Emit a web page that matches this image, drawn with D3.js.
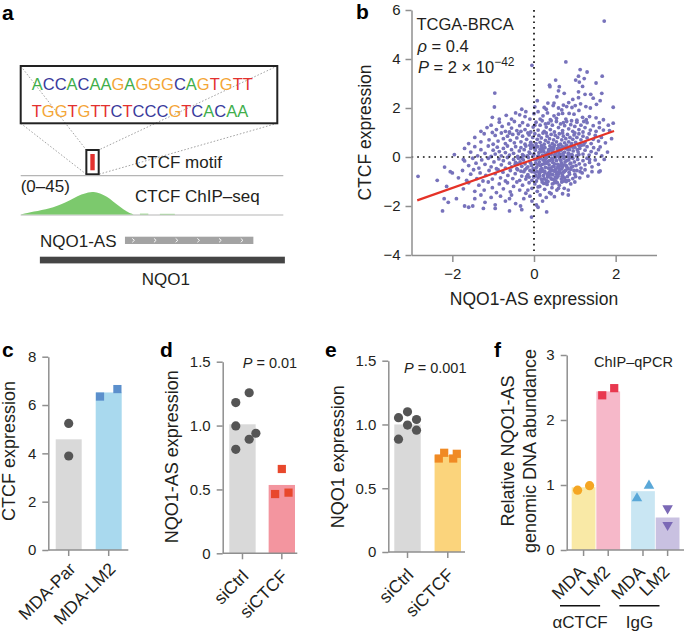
<!DOCTYPE html>
<html>
<head>
<meta charset="utf-8">
<script src="https://cdn.jsdelivr.net/npm/d3@7/dist/d3.min.js"></script>
<style>
html,body{margin:0;padding:0;background:#fff;}
svg{display:block;}
</style>
</head>
<body>
<svg id="fig" width="685" height="631" xmlns="http://www.w3.org/2000/svg"></svg>
<script>
// ================= DATA =================
// panel a
const seqLine1 = "ACCACAAGAGGGCAGTGTT".split("");
const seqLine2 = "TGGTGTTCTCCCGTCACAA".split("");
const baseColor = {A:"#3fae4b", C:"#393a9c", G:"#f4a637", T:"#e3312f"};
const trackDomain = [0, 100];
const chipPos = [0, 4.8, 11.2, 16.3, 20.1, 23.2, 25.8, 27.7, 30.2, 32.8, 35.3, 37.8, 40.4, 42.3, 42.9];
const chipVal = [0, 5, 11, 20, 30, 37, 41, 42, 39, 33, 23.5, 14, 5, 1.3, 0];
const chipMinor = [[45.4, 48.6, 1.3], [53, 58.7, 1.0]];
const chipRange = [0, 45];
const motifRange = [25, 29.7];
const nqo1asRange = [39.7, 88.6];
const nqo1Range = [7.3, 100.6];

// panel b
const scatterPoints = [
[1.72,5.55],[-0.05,3.74],[0.78,3.88],[1.13,3.57],[1.3,3.47],[1.67,3.3],[1.09,3.3],[1.23,3.2],[1.02,3.14],[0.53,3.14],[1.11,3.06],[1.52,3.02],
[0.38,2.93],[0.39,2.87],[0.62,2.87],[1.19,2.88],[0.6,2.7],[0.74,2.6],[1.09,2.66],[1.25,2.56],[1.39,2.56],[1.66,2.6],[0.56,2.46],[1.09,2.42],[-0.96,2.61],[0.08,2.3],[0.34,2.2],[0.49,2.2],[0.47,2.1],[0.72,2.12],[0.85,2.22],[1.14,2.17],[1.53,2.15],[1.94,2.03],[0.8,2.06],[0.93,2.02],[1.01,2.1],[1.27,2.06],[1.38,2.0],[-0.97,2.04],[0.02,2.05],[0.25,2.02],[0.6,2.0],[1.62,2.3],[0.95,2.35],[1.45,2.4],
[0.0,1.77],[0.1,1.85],[0.22,1.68],[0.33,1.8],[0.49,1.68],[0.6,1.75],[0.7,1.78],[0.86,1.78],[0.98,1.75],[1.19,1.62],[1.36,1.65],[1.52,1.6],[-0.68,1.7],[-0.45,1.8],[-0.35,1.72],[-0.22,1.65],[-0.55,1.55],[-0.1,1.55],[0.15,1.55],[0.4,1.52],[0.55,1.58],[0.78,1.55],[1.05,1.5],[1.28,1.52],[1.7,1.52],[1.94,1.38],[1.82,1.3],[1.6,1.4],[-0.85,1.55],[-1.02,1.62],[0.3,1.95],[0.68,1.92],[1.1,1.9],[-0.3,1.95],[-0.2,1.85],
[-1.3,1.05],[-1.15,1.2],[-1.05,1.3],[-0.92,1.12],[-0.85,1.42],[-0.78,1.25],[-0.7,1.05],[-0.62,1.35],[-0.55,1.18],[-0.48,1.45],[-0.42,1.08],[-0.35,1.28],[-0.28,1.4],[-0.22,1.12],[-0.15,1.3],[-0.08,1.02],[-0.02,1.22],[0.05,1.42],[0.1,1.1],[0.15,1.3],[0.2,1.48],[0.25,1.05],[0.3,1.22],[0.35,1.38],[0.4,1.12],[0.45,1.3],[0.5,1.02],[0.55,1.45],[0.6,1.2],[0.65,1.35],[0.7,1.08],[0.75,1.28],[0.8,1.45],[0.85,1.15],[0.9,1.32],[0.95,1.05],[1.0,1.25],[1.05,1.42],[1.1,1.12],[1.15,1.3],[1.2,1.02],[1.25,1.2],[1.3,1.4],[1.38,1.1],[1.45,1.28],[1.52,1.05],[1.6,1.2],[1.7,1.1],[1.85,1.08],[-0.6,1.02],[0.02,1.3],[0.42,1.48],[0.92,1.48],[-0.32,1.05],[0.28,1.35],[0.72,1.4],[1.22,1.45],[-1.02,1.0],
[-1.6,0.55],[-1.45,0.8],[-1.3,0.62],[-1.22,0.95],[-1.1,0.7],[-1.0,0.52],[-0.95,0.88],[-0.88,0.65],[-0.8,0.98],[-0.75,0.75],[-0.7,0.55],[-0.65,0.85],[-0.58,0.68],[-0.52,0.92],[-0.48,0.58],[-0.42,0.78],[-0.38,0.95],[-0.32,0.62],[-0.28,0.85],[-0.22,0.52],[-0.18,0.72],[-0.12,0.9],[-0.08,0.6],[-0.03,0.8],[0.02,0.95],[0.05,0.55],[0.08,0.72],[0.12,0.88],[0.15,0.6],[0.18,0.78],[0.22,0.98],[0.25,0.52],[0.28,0.68],[0.32,0.85],[0.35,0.6],[0.38,0.75],[0.42,0.92],[0.45,0.55],[0.48,0.7],[0.52,0.88],[0.55,0.62],[0.58,0.8],[0.62,0.95],[0.65,0.52],[0.68,0.7],[0.72,0.85],[0.75,0.58],[0.78,0.75],[0.82,0.92],[0.85,0.62],[0.88,0.8],[0.92,0.55],[0.95,0.72],[0.98,0.9],[1.02,0.6],[1.05,0.8],[1.1,0.95],[1.12,0.52],[1.15,0.7],[1.2,0.85],[1.25,0.6],[1.3,0.78],[1.35,0.95],[1.4,0.55],[1.45,0.72],[1.5,0.88],[1.58,0.65],[1.65,0.8],[1.75,0.58],[1.9,0.75],[-0.6,0.98],[0.3,0.98],[0.7,0.98],[1.0,0.98],[-0.15,0.98],
[-1.95,0.1],[-1.7,0.35],[-1.55,0.2],[-1.45,0.42],[-1.38,0.05],[-1.3,0.3],[-1.2,0.15],[-1.12,0.45],[-1.05,0.02],[-1.0,0.28],[-0.95,0.12],[-0.9,0.4],[-0.85,0.22],[-0.8,0.05],[-0.75,0.35],[-0.7,0.18],[-0.65,0.45],[-0.6,0.08],[-0.55,0.3],[-0.5,0.15],[-0.45,0.42],[-0.4,0.02],[-0.36,0.25],[-0.32,0.38],[-0.28,0.1],[-0.24,0.3],[-0.2,0.45],[-0.16,0.05],[-0.12,0.2],[-0.08,0.35],[-0.04,0.48],[0.0,0.12],[0.03,0.28],[0.06,0.42],[0.09,0.02],[0.12,0.18],[0.15,0.32],[0.18,0.46],[0.21,0.08],[0.24,0.22],[0.27,0.38],[0.3,0.02],[0.33,0.15],[0.36,0.3],[0.39,0.45],[0.42,0.1],[0.45,0.25],[0.48,0.4],[0.51,0.04],[0.54,0.18],[0.57,0.34],[0.6,0.48],[0.63,0.12],[0.66,0.28],[0.69,0.42],[0.72,0.06],[0.75,0.2],[0.78,0.36],[0.81,0.02],[0.84,0.15],[0.87,0.3],[0.9,0.45],[0.93,0.1],[0.96,0.25],[1.0,0.4],[1.04,0.05],[1.08,0.2],[1.12,0.35],[1.16,0.48],[1.2,0.12],[1.25,0.28],[1.3,0.42],[1.35,0.08],[1.4,0.22],[1.46,0.38],[1.52,0.15],[1.58,0.3],[1.66,0.05],[1.8,0.2],[1.62,0.41],[0.2,0.4],[0.5,0.48],[0.8,0.48],[-0.1,0.48],[0.0,0.4],[0.35,0.22],[0.65,0.05],[0.95,0.4],[1.1,0.48],
[-2.19,-0.41],[-1.7,-0.16],[-1.73,-0.1],[-1.6,-0.35],[-1.5,-0.05],[-1.42,-0.25],[-1.35,-0.45],[-1.28,-0.12],[-1.2,-0.3],[-1.12,-0.05],[-1.05,-0.4],[-0.98,-0.2],[-0.92,-0.48],[-0.86,-0.08],[-0.8,-0.32],[-0.75,-0.15],[-0.7,-0.45],[-0.65,-0.02],[-0.6,-0.25],[-0.55,-0.4],[-0.5,-0.1],[-0.46,-0.3],[-0.42,-0.48],[-0.38,-0.05],[-0.34,-0.2],[-0.3,-0.38],[-0.26,-0.12],[-0.22,-0.28],[-0.18,-0.45],[-0.14,-0.02],[-0.1,-0.18],[-0.06,-0.35],[-0.02,-0.48],[0.01,-0.1],[0.04,-0.25],[0.07,-0.4],[0.1,-0.05],[0.13,-0.2],[0.16,-0.35],[0.19,-0.48],[0.22,-0.12],[0.25,-0.28],[0.28,-0.42],[0.31,-0.02],[0.34,-0.18],[0.37,-0.32],[0.4,-0.46],[0.43,-0.08],[0.46,-0.22],[0.49,-0.38],[0.52,-0.02],[0.55,-0.15],[0.58,-0.3],[0.61,-0.45],[0.64,-0.1],[0.67,-0.25],[0.7,-0.4],[0.73,-0.05],[0.76,-0.2],[0.79,-0.35],[0.82,-0.48],[0.85,-0.12],[0.88,-0.28],[0.91,-0.42],[0.95,-0.05],[0.99,-0.2],[1.03,-0.35],[1.07,-0.1],[1.11,-0.28],[1.15,-0.45],[1.2,-0.15],[1.25,-0.32],[1.3,-0.05],[1.36,-0.22],[1.42,-0.4],[1.5,-0.12],[1.58,-0.3],[1.36,-0.1],[1.72,-0.1],[0.05,-0.12],[0.2,-0.3],[0.35,-0.45],[0.5,-0.28],[0.62,-0.02],[0.75,-0.32],[0.15,-0.05],[0.45,-0.4],[-0.08,-0.25],[0.28,-0.08],[0.68,-0.48],[0.88,-0.02],[-0.3,-0.05],[-0.45,-0.22],[0.38,-0.15],[0.58,-0.42],
[-2.84,-0.79],[-2.37,-0.95],[-2.05,-0.6],[-2.0,-0.65],[-1.85,-0.85],[-1.75,-0.55],[-1.65,-0.95],[-1.55,-0.7],[-1.48,-0.52],[-1.4,-0.88],[-1.32,-0.65],[-1.25,-0.98],[-1.18,-0.75],[-1.1,-0.55],[-1.02,-0.9],[-0.95,-0.68],[-0.88,-0.52],[-0.82,-0.85],[-0.76,-0.62],[-0.7,-0.98],[-0.64,-0.75],[-0.58,-0.55],[-0.52,-0.88],[-0.46,-0.68],[-0.4,-0.52],[-0.35,-0.95],[-0.3,-0.78],[-0.25,-0.6],[-0.2,-0.9],[-0.15,-0.72],[-0.1,-0.55],[-0.05,-0.95],[-0.01,-0.8],[0.02,-0.62],[0.06,-0.98],[0.1,-0.85],[0.13,-0.68],[0.16,-0.52],[0.2,-0.92],[0.23,-0.75],[0.26,-0.58],[0.3,-0.95],[0.33,-0.82],[0.36,-0.65],[0.4,-0.52],[0.43,-0.9],[0.46,-0.72],[0.5,-0.58],[0.53,-0.98],[0.56,-0.85],[0.6,-0.68],[0.63,-0.52],[0.67,-0.9],[0.7,-0.75],[0.74,-0.6],[0.78,-0.95],[0.82,-0.8],[0.86,-0.62],[0.9,-0.5],[0.95,-0.88],[1.0,-0.7],[1.05,-0.55],[1.12,-0.85],[1.18,-0.65],[1.25,-0.52],[1.32,-0.78],[1.42,-0.6],[1.59,-0.61],[1.62,-0.57],[0.15,-0.62],[0.35,-0.78],[0.55,-0.7],[0.25,-0.88],[0.45,-0.55],[0.65,-0.65],[0.05,-0.75],[-0.12,-0.82],[0.75,-0.85],[0.4,-0.7],[0.2,-0.52],[-0.22,-0.52],[0.85,-0.95],
[-2.14,-1.2],[-1.73,-1.3],[-1.6,-1.05],[-1.45,-1.4],[-1.35,-1.15],[-1.22,-1.35],[-1.12,-1.02],[-1.02,-1.25],[-0.92,-1.45],[-0.85,-1.1],[-0.75,-1.3],[-0.65,-1.05],[-0.58,-1.42],[-0.5,-1.2],[-0.42,-1.02],[-0.35,-1.35],[-0.28,-1.15],[-0.2,-1.48],[-0.12,-1.05],[-0.05,-1.28],[0.02,-1.1],[0.08,-1.4],[0.14,-1.2],[0.2,-1.02],[0.26,-1.32],[0.32,-1.12],[0.38,-1.45],[0.44,-1.25],[0.5,-1.05],[0.56,-1.35],[0.62,-1.15],[0.68,-1.02],[0.74,-1.28],[0.84,-1.35],[0.9,-1.1],[1.0,-1.02],[0.1,-1.22],[0.3,-1.05],[0.45,-1.1],[-0.15,-1.35],[0.6,-1.28],
[-2.2,-1.7],[-2.1,-1.85],[-1.9,-1.7],[-1.7,-2.0],[-1.5,-2.0],[-1.45,-1.7],[-1.3,-1.55],[-1.2,-1.85],[-1.05,-1.65],[-0.95,-1.95],[-0.82,-1.6],[-0.7,-1.8],[-0.55,-1.55],[-0.45,-1.9],[-0.33,-2.0],[-0.25,-1.7],[-0.1,-1.6],[0.06,-1.96],[0.21,-1.8],[0.42,-1.5],[0.7,-1.5],[0.84,-1.55],[0.5,-1.62],[-0.05,-1.8],[0.3,-1.65],[0.15,-1.55],[-0.6,-1.7],
[-2.24,-2.2],[-0.6,-2.2],[-1.24,-2.1],[0.31,-2.24],[-0.06,-2.45],[-1.6,-2.05],[-0.95,-2.1],[-0.3,-2.15],[0.1,-2.05],
[0.02,0.35],[0.08,-0.6],[0.12,0.05],[0.18,-0.9],[0.22,0.3],[0.27,-0.65],[0.31,-0.25],[0.36,0.1],[0.41,-0.85],[0.44,-0.05],[0.47,0.32],[0.53,-0.5],[0.57,-1.05],[0.6,0.2],[0.64,-0.35],[0.69,-0.8],[0.71,0.15],[0.77,-0.55],[0.8,-0.15],[0.83,0.3],[0.87,-0.7],[0.9,-0.25],[0.05,-0.45],[0.14,-0.78],[0.24,-1.08],[0.29,0.12],[0.39,-0.6],[0.48,-0.92],[0.51,0.1],[0.59,-0.78],[0.66,-0.15],[0.74,0.4],[0.79,-1.0],[0.93,0.05],[-0.05,-0.6],[-0.1,0.15],[-0.18,-0.8],[-0.25,0.05],[-0.32,-0.58],[-0.4,-0.28],[0.11,-0.3],[0.21,-0.58],[0.34,-1.0],[0.43,0.38],[0.55,-0.62],[0.63,0.35],[0.72,-0.62],[0.81,-0.42],[0.98,-0.55],[1.06,0.3],[1.13,-0.6],[1.22,0.5],[0.0,-0.82],[0.17,0.22],[0.26,-0.18],[0.33,-0.72],[0.46,-0.12],[0.52,-0.82],[0.57,0.05],[0.68,-0.3],[0.73,-0.98],[0.86,0.12],[0.95,-0.38],[1.02,-0.8],[1.1,0.1],[0.09,0.42],[-0.02,0.05],[-0.15,-0.4],[0.38,0.28],[0.62,-0.55]
];
const regX = [-2.86, 1.96];
const regY = [-1.77, 1.06];
const scatterXTicks = [-2, 0, 2];
const scatterYTicks = [-4, -2, 0, 2, 4, 6];

// panel c
const cCategories = ["MDA-Par", "MDA-LM2"];
const cMeans = [4.58, 6.52];
const cPoints = [[0, 0, 5.24], [0, 0, 3.89], [1, -1, 6.35], [1, 1, 6.66]]; // [category, jitter slot, value]
const cTicks = [0, 2, 4, 6, 8];

// panel d
const dCategories = ["siCtrl", "siCTCF"];
const dMeans = [1.01, 0.535];
const dPoints = [[0,-1,1.18],[0,1,1.257],[0,-1,0.997],[0,1,0.893],[0,2,0.94],[0,-1,0.814],[1,0,0.66],[1,-1,0.464],[1,1,0.475]];
const dTicks = [0, 0.5, 1.0, 1.5];

// panel e
const eCategories = ["siCtrl", "siCTCF"];
const eMeans = [1.0, 0.76];
const ePoints = [[0,-1,1.053],[0,0,1.099],[0,1,1.039],[0,0,0.995],[0,1,0.955],[0,-1,0.885],[1,-1,0.733],[1,-0.4,0.778],[1,0.6,0.733],[1,1,0.77]];
const eTicks = [0, 0.5, 1.0, 1.5];

// panel f
const fGroups = ["αCTCF", "IgG"];
const fCells = ["MDA", "LM2"];
const fMeans = [[0.965, 2.44], [0.905, 0.50]];
const fPoints = [[0,0,-1,0.92],[0,0,1,0.99],[0,1,-1,2.38],[0,1,1,2.49],[1,0,-1,0.795],[1,0,1,0.99],[1,1,0,0.64],[1,1,0,0.385]];
const fTicks = [0, 1, 2, 3];

// ================= DRAW =================
const svg = d3.select("#fig");
const FF = "'Liberation Sans', Arial, Helvetica, sans-serif";
const INK = "#231f20";
const AXIS = "#8f8f8f";
const XLAB = 17.5;
const TITLE = 18;
svg.append("rect").attr("width", 685).attr("height", 631).attr("fill", "#fff");

function label(g, x, y, s, size, extra) {
  const t = g.append("text").attr("x", x).attr("y", y).text(s)
    .attr("font-family", FF).attr("font-size", size).attr("fill", INK);
  if (extra) extra(t);
  return t;
}
function vTitle(g, x, y, s, size) {
  return g.append("text").attr("transform", `translate(${x},${y}) rotate(-90)`)
    .attr("text-anchor", "middle").attr("font-family", FF).attr("font-size", size)
    .attr("fill", INK).text(s);
}
function styleAxis(ax, fs) {
  ax.select(".domain").attr("stroke", AXIS).attr("stroke-width", 1.5);
  ax.selectAll(".tick line").attr("stroke", AXIS).attr("stroke-width", 1.5);
  ax.selectAll(".tick text").attr("font-family", FF).attr("font-size", fs).attr("fill", INK);
}

// panel letters
const panelLetters = [["a", 2, 20], ["b", 356, 18.5], ["c", 2, 357], ["d", 160, 357], ["e", 325, 357], ["f", 494, 357]];
panelLetters.forEach(([l, x, y]) => label(svg, x, y, l, 21, t => t.attr("font-weight", "bold").attr("fill", "#000")));

// ---------- Panel a ----------
(function () {
  const g = svg.append("g");
  const tx = d3.scaleLinear().domain(trackDomain).range([20.7, 283.3]);
  const box = {x0: 20.7, x1: 277.3, y0: 66, y1: 123.3};
  const mb = {x0: tx(motifRange[0]), x1: tx(motifRange[1]), y0: 150, y1: 174.3};
  const dots = [[box.x0, box.y0, mb.x0, mb.y0], [box.x0, box.y1, mb.x0, mb.y1],
                [box.x1, box.y0, mb.x1, mb.y0], [box.x1, box.y1, mb.x1, mb.y1]];
  g.selectAll("line.zoom").data(dots).join("line")
    .attr("x1", d => d[0]).attr("y1", d => d[1]).attr("x2", d => d[2]).attr("y2", d => d[3])
    .attr("stroke", "#9a9a9a").attr("stroke-width", 0.9).attr("stroke-dasharray", "1.6,1.8");
  g.append("rect").attr("x", box.x0).attr("y", box.y0).attr("width", box.x1 - box.x0).attr("height", box.y1 - box.y0)
    .attr("fill", "none").attr("stroke", "#222").attr("stroke-width", 2);
  [[seqLine1, 90], [seqLine2, 116.7]].forEach(([seq, yy]) => {
    const t = g.append("text").attr("x", 31.7).attr("y", yy).attr("font-family", FF).attr("font-size", 16.5);
    t.selectAll("tspan").data(seq).join("tspan").attr("fill", d => baseColor[d]).text(d => d);
  });
  g.append("rect").attr("x", mb.x0).attr("y", mb.y0).attr("width", mb.x1 - mb.x0).attr("height", mb.y1 - mb.y0)
    .attr("fill", "#fff").attr("stroke", "#222").attr("stroke-width", 2);
  const mc = (mb.x0 + mb.x1) / 2;
  g.append("rect").attr("x", mc - 2.2).attr("y", mb.y0 + 4).attr("width", 4.4).attr("height", mb.y1 - mb.y0 - 8).attr("fill", "#e3312f");
  label(g, 135, 168.3, "CTCF motif", 17);
  [175.7, 215].forEach(yy => g.append("line").attr("x1", tx(0)).attr("x2", tx(100)).attr("y1", yy).attr("y2", yy)
    .attr("stroke", "#b5b5b5").attr("stroke-width", 1.2));
  const cy = d3.scaleLinear().domain(chipRange).range([214.4, 190]);
  const pts = chipPos.map((p, i) => [p, chipVal[i]]);
  g.append("path").datum(pts)
    .attr("d", d3.area().x(d => tx(d[0])).y0(cy(0)).y1(d => cy(d[1])).curve(d3.curveBasis))
    .attr("fill", "#7cc96d");
  chipMinor.forEach(([a, b, v]) => g.append("rect").attr("x", tx(a)).attr("width", tx(b) - tx(a))
    .attr("y", cy(v)).attr("height", cy(0) - cy(v)).attr("fill", "#7cc96d"));
  label(g, 20.7, 191.7, "(0–45)", 17);
  label(g, 135, 201.7, "CTCF ChIP–seq", 17);
  g.append("rect").attr("x", tx(nqo1asRange[0])).attr("width", tx(nqo1asRange[1]) - tx(nqo1asRange[0]))
    .attr("y", 236.7).attr("height", 7.3).attr("fill", "#a3a3a3");
  const nCh = 6;
  const chev = d3.range(nCh).map(i => tx(nqo1asRange[0]) + 8.3 + i * 21.7);
  g.selectAll("path.chev").data(chev).join("path")
    .attr("d", x => `M${x - 1},${238.4} L${x + 1.2},${240.35} L${x - 1},${242.3}`)
    .attr("fill", "none").attr("stroke", "#fff").attr("stroke-width", 0.9);
  label(g, 40, 246.7, "NQO1-AS", 17);
  g.append("rect").attr("x", tx(nqo1Range[0])).attr("width", tx(nqo1Range[1]) - tx(nqo1Range[0]))
    .attr("y", 256.7).attr("height", 6.7).attr("fill", "#454545");
  label(g, 165.8, 284.5, "NQO1", 17, t => t.attr("text-anchor", "middle"));
})();

// ---------- Panel b ----------
(function () {
  const g = svg.append("g");
  const x = d3.scaleLinear().domain([-3, 3]).range([411.5, 656.5]);
  const y = d3.scaleLinear().domain([-4, 6]).range([255, 10]);
  g.selectAll("circle.pt").data(scatterPoints).join("circle")
    .attr("cx", d => x(d[0])).attr("cy", d => y(d[1])).attr("r", 1.9).attr("fill", "#7772bb");
  g.append("line").attr("x1", x(0)).attr("x2", x(0)).attr("y1", y(6)).attr("y2", y(-4))
    .attr("stroke", "#111").attr("stroke-width", 1.7).attr("stroke-dasharray", "1.7,4");
  g.append("line").attr("x1", x(-3)).attr("x2", x(3)).attr("y1", y(0)).attr("y2", y(0))
    .attr("stroke", "#111").attr("stroke-width", 1.7).attr("stroke-dasharray", "1.7,4");
  g.append("line").attr("x1", x(regX[0])).attr("y1", y(regY[0])).attr("x2", x(regX[1])).attr("y2", y(regY[1]))
    .attr("stroke", "#e53227").attr("stroke-width", 2.2);
  const ay = g.append("g").attr("transform", `translate(${x(-3)},0)`)
    .call(d3.axisLeft(y).tickValues(scatterYTicks).tickFormat(d3.format("d")).tickSize(6).tickPadding(5).tickSizeOuter(0));
  styleAxis(ay, 15);
  const ax = g.append("g").attr("transform", `translate(0,${y(-4)})`)
    .call(d3.axisBottom(x).tickValues(scatterXTicks).tickFormat(d3.format("d")).tickSize(7).tickPadding(6).tickSizeOuter(0));
  styleAxis(ax, 15);
  label(g, 534, 304.5, "NQO1-AS expression", 17.5, t => t.attr("text-anchor", "middle"));
  vTitle(g, 371, 132.5, "CTCF expression", 17.5);
  label(g, 416.5, 30, "TCGA-BRCA", 16.5);
  const t2 = label(g, 417.5, 51.5, "", 16.5);
  t2.append("tspan").attr("font-style", "italic").text("ρ");
  t2.append("tspan").text(" = 0.4");
  const t3 = label(g, 418, 73, "", 16.5);
  t3.append("tspan").attr("font-style", "italic").text("P");
  t3.append("tspan").text(" = 2 × 10");
  t3.append("tspan").attr("font-size", 12).attr("dy", -7).text("−42");
})();

// ---------- generic bar panel ----------
function barPanel(o) {
  const g = svg.append("g");
  const y = d3.scaleLinear().domain(o.yDomain).range(o.yRange);
  const xb = d3.scaleBand().domain(o.cats).range(o.bandRange).paddingInner(o.padInner);
  const y0 = y(0);
  g.selectAll("rect.bar").data(o.means).join("rect")
    .attr("x", (d, i) => xb(o.cats[i])).attr("width", xb.bandwidth())
    .attr("y", d => y(d)).attr("height", d => y0 - y(d))
    .attr("fill", (d, i) => o.barColors[i]);
  const ay = g.append("g").attr("transform", `translate(${o.axisX0},0)`)
    .call(d3.axisLeft(y).tickValues(o.ticks).tickFormat(o.fmt).tickSize(6).tickPadding(6).tickSizeOuter(0));
  styleAxis(ay, 15);
  g.append("line").attr("x1", o.axisX0).attr("x2", o.axisX1).attr("y1", y0).attr("y2", y0)
    .attr("stroke", AXIS).attr("stroke-width", 1.5);
  o.cats.forEach(c => {
    const cx = xb(c) + xb.bandwidth() / 2;
    g.append("line").attr("x1", cx).attr("x2", cx).attr("y1", y0).attr("y2", y0 + 6)
      .attr("stroke", AXIS).attr("stroke-width", 1.5);
    g.append("text").attr("transform", `translate(${cx + o.ldx},${y0 + o.ldy}) rotate(-45)`)
      .attr("text-anchor", "end").attr("font-family", FF).attr("font-size", XLAB).attr("fill", INK).text(c);
  });
  o.points.forEach(([ci, slot, v]) => {
    const cx = xb(o.cats[ci]) + xb.bandwidth() / 2 + slot * o.jitter;
    if (o.shapes[ci] === "circle") {
      g.append("circle").attr("cx", cx).attr("cy", y(v)).attr("r", 4.6).attr("fill", o.ptColors[ci]);
    } else {
      g.append("rect").attr("x", cx - 4.1).attr("y", y(v) - 4.1).attr("width", 8.2).attr("height", 8.2).attr("fill", o.ptColors[ci]);
    }
  });
  vTitle(g, o.titleX, o.titleY, o.title, TITLE);
  return {g, y, xb};
}

// ---------- Panel c ----------
barPanel({cats: cCategories, means: cMeans, points: cPoints, ticks: cTicks, fmt: d3.format("d"),
  yDomain: [0, 8], yRange: [550, 356.7], bandRange: [55.7, 121.7], padInner: 0.35,
  axisX0: 48.3, axisX1: 128.3, barColors: ["#d9d9d9", "#a9d9ee"], ptColors: ["#555555", "#5b8fcc"],
  shapes: ["circle", "square"], jitter: 8.7, ldx: 8, ldy: 20,
  title: "CTCF expression", titleX: 15, titleY: 451});

// ---------- Panel d ----------
barPanel({cats: dCategories, means: dMeans, points: dPoints, ticks: dTicks, fmt: d => d === 0 ? "0" : d3.format(".1f")(d),
  yDomain: [0, 1.5], yRange: [553.3, 361.7], bandRange: [229.3, 295], padInner: 0.33,
  axisX0: 222.7, axisX1: 297.3, barColors: ["#d9d9d9", "#f3959f"], ptColors: ["#555555", "#e8482c"],
  shapes: ["circle", "square"], jitter: 6.7, ldx: 7, ldy: 24,
  title: "NQO1-AS expression", titleX: 177.5, titleY: 456.7});
(function () {
  const t = label(svg, 242.7, 368.3, "", 14.5);
  t.append("tspan").attr("font-style", "italic").text("P");
  t.append("tspan").text(" = 0.01");
})();

// ---------- Panel e ----------
barPanel({cats: eCategories, means: eMeans, points: ePoints, ticks: eTicks, fmt: d => d === 0 ? "0" : d3.format(".1f")(d),
  yDomain: [0, 1.5], yRange: [552, 360.7], bandRange: [394.3, 461], padInner: 0.344,
  axisX0: 388.3, axisX1: 465, barColors: ["#d9d9d9", "#fbd47c"], ptColors: ["#555555", "#f08a24"],
  shapes: ["circle", "square"], jitter: 9, ldx: 7, ldy: 24,
  title: "NQO1 expression", titleX: 343.5, titleY: 456.7});
(function () {
  const t = label(svg, 404, 373, "", 14.5);
  t.append("tspan").attr("font-style", "italic").text("P");
  t.append("tspan").text(" = 0.001");
})();

// ---------- Panel f ----------
(function () {
  const g = svg.append("g");
  const y = d3.scaleLinear().domain([0, 3]).range([550, 355]);
  const xo = d3.scaleBand().domain(fGroups).range([571.7, 679.5]).paddingInner(0.185);
  const xi = d3.scaleBand().domain(fCells).range([0, xo.bandwidth()]).paddingInner(0.035);
  const barColors = [["#f9e9a6", "#f6b8c9"], ["#c9e6f3", "#c9c1e1"]];
  const ptColors = [["#f5a623", "#e8384f"], ["#5aa8d8", "#7b69b6"]];
  const ptShapes = [["circle", "square"], ["up", "down"]];
  fGroups.forEach((grp, gi) => fCells.forEach((cell, ci) => {
    const v = fMeans[gi][ci];
    g.append("rect").attr("x", xo(grp) + xi(cell)).attr("width", xi.bandwidth())
      .attr("y", y(v)).attr("height", y(0) - y(v)).attr("fill", barColors[gi][ci]);
  }));
  const ay = g.append("g").attr("transform", `translate(566.7,0)`)
    .call(d3.axisLeft(y).tickValues(fTicks).tickFormat(d3.format("d")).tickSize(6).tickPadding(6).tickSizeOuter(0));
  styleAxis(ay, 15);
  g.append("line").attr("x1", 566.7).attr("x2", 684).attr("y1", y(0)).attr("y2", y(0))
    .attr("stroke", AXIS).attr("stroke-width", 1.5);
  fGroups.forEach((grp, gi) => {
    fCells.forEach((cell, ci) => {
      const cx = xo(grp) + xi(cell) + xi.bandwidth() / 2;
      g.append("line").attr("x1", cx).attr("x2", cx).attr("y1", y(0)).attr("y2", y(0) + 6)
        .attr("stroke", AXIS).attr("stroke-width", 1.5);
      g.append("text").attr("transform", `translate(${cx + 3},${y(0) + 23}) rotate(-45)`)
        .attr("text-anchor", "end").attr("font-family", FF).attr("font-size", XLAB).attr("fill", INK).text(cell);
    });
    const gx0 = xo(grp) - 11.7, gx1 = xo(grp) + xo.bandwidth() - 20;
    g.append("line").attr("x1", gx0).attr("x2", gx1).attr("y1", 605.7).attr("y2", 605.7)
      .attr("stroke", "#111").attr("stroke-width", 1.6);
    label(g, (gx0 + gx1) / 2, 628, grp, 17, t => t.attr("text-anchor", "middle"));
  });
  fPoints.forEach(([gi, ci, slot, v]) => {
    const cx = xo(fGroups[gi]) + xi(fCells[ci]) + xi.bandwidth() / 2 + slot * 6;
    const sh = ptShapes[gi][ci], col = ptColors[gi][ci];
    if (sh === "circle") g.append("circle").attr("cx", cx).attr("cy", y(v)).attr("r", 4.6).attr("fill", col);
    else if (sh === "square") g.append("rect").attr("x", cx - 4.1).attr("y", y(v) - 4.1).attr("width", 8.2).attr("height", 8.2).attr("fill", col);
    else g.append("path").attr("d", d3.symbol().type(d3.symbolTriangle).size(48)())
      .attr("transform", `translate(${cx},${y(v)}) rotate(${sh === "down" ? 180 : 0})`).attr("fill", col);
  });
  label(g, 594, 366.7, "ChIP–qPCR", 14.5);
  vTitle(g, 514, 451, "Relative NQO1-AS", TITLE);
  vTitle(g, 536, 451, "genomic DNA abundance", TITLE);
})();
</script>
</body>
</html>
